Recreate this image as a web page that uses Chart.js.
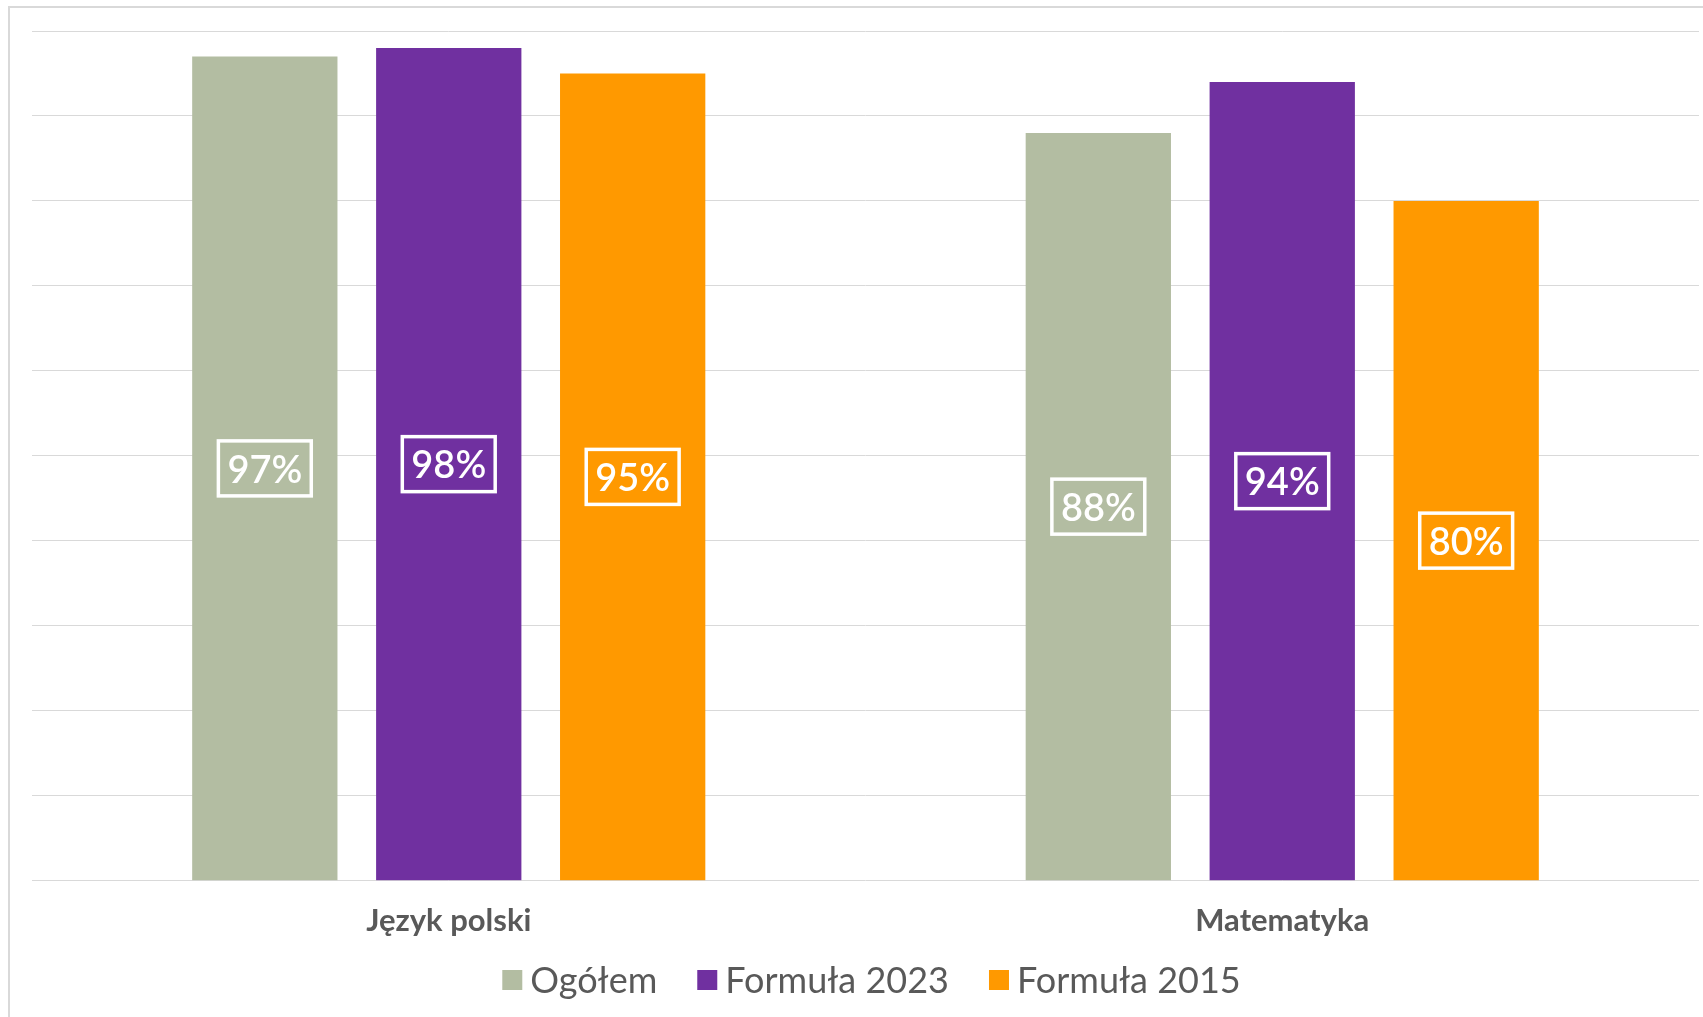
<!DOCTYPE html>
<html>
<head>
<meta charset="utf-8">
<script src="https://cdn.jsdelivr.net/npm/chart.js@4.4.0/dist/chart.umd.min.js"></script>
<style>
  body { margin: 0; background: #ffffff; }
  #frame {
    position: absolute; left: 8px; top: 6px; width: 1800px; height: 1100px;
    border-left: 2px solid #d9d9d9; border-top: 2px solid #d9d9d9;
  }
  #wrap { position: absolute; left: 0; top: 0; width: 1703px; height: 1017px; }
</style>
</head>
<body>
<div id="frame"></div>
<div id="wrap"><canvas id="chart"></canvas></div>
<script>
const categories = ['Język polski', 'Matematyka']
const seriesNames = ['Ogółem', 'Formuła 2023', 'Formuła 2015']
const ogolem = [97, 88]
const formula2023 = [98, 94]
const formula2015 = [95, 80]
const colors = ['#b3bda2', '#7030a0', '#ff9900']

const FONT = 'Lato, "Open Sans", sans-serif'

// etykiety z wartością w białej ramce
const boxLabels = {
  id: 'boxLabels',
  afterDatasetsDraw(chart) {
    const ctx = chart.ctx
    ctx.save()
    ctx.font = '600 38px ' + FONT
    ctx.textAlign = 'center'
    ctx.textBaseline = 'middle'
    chart.data.datasets.forEach((ds, i) => {
      chart.getDatasetMeta(i).data.forEach((bar, j) => {
        const text = ds.data[j] + '%'
        const cx = bar.x
        const cy = (bar.y + bar.base) / 2
        const w = ctx.measureText(text).width + 18
        const h = 55
        ctx.strokeStyle = '#ffffff'
        ctx.lineWidth = 3.5
        ctx.strokeRect(cx - w / 2, cy - h / 2, w, h)
        ctx.fillStyle = '#ffffff'
        ctx.fillText(text, cx, cy + 2)
      })
    })
    ctx.restore()
  }
}

// legenda na dole
const bottomLegend = {
  id: 'bottomLegend',
  afterDraw(chart) {
    const ctx = chart.ctx
    const area = chart.chartArea
    ctx.save()
    ctx.font = '36px ' + FONT
    ctx.textBaseline = 'middle'
    const box = 20, gap = 8, spacing = 40
    const items = chart.data.datasets.map(ds => ({
      text: ds.label, color: ds.backgroundColor, w: ctx.measureText(ds.label).width
    }))
    let total = items.reduce((s, it) => s + box + gap + it.w, 0) + spacing * (items.length - 1)
    let x = (area.left + area.right) / 2 - total / 2 + 6
    const y = 980
    items.forEach(it => {
      ctx.fillStyle = it.color
      ctx.fillRect(x, y - box / 2, box, box)
      ctx.fillStyle = '#595959'
      ctx.fillText(it.text, x + box + gap, y + 1)
      x += box + gap + it.w + spacing
    })
    ctx.restore()
  }
}

new Chart(document.getElementById('chart'), {
  type: 'bar',
  data: {
    labels: categories,
    datasets: [
      { label: seriesNames[0], data: ogolem, backgroundColor: colors[0] },
      { label: seriesNames[1], data: formula2023, backgroundColor: colors[1] },
      { label: seriesNames[2], data: formula2015, backgroundColor: colors[2] }
    ]
  },
  options: {
    responsive: true,
    maintainAspectRatio: false,
    animation: false,
    layout: { padding: { left: 32, right: 4, top: 31, bottom: 63 } },
    datasets: { bar: { categoryPercentage: 0.662, barPercentage: 0.79 } },
    scales: {
      x: {
        grid: { display: false },
        border: { display: false },
        ticks: {
          color: '#595959',
          font: { family: FONT, size: 31, weight: 'bold', lineHeight: 1.2 },
          padding: 14
        }
      },
      y: {
        min: 0,
        max: 100,
        ticks: { display: false, stepSize: 10 },
        border: { display: false },
        grid: { color: '#d9d9d9', lineWidth: 1, drawTicks: false }
      }
    },
    plugins: {
      legend: { display: false },
      tooltip: { enabled: false }
    }
  },
  plugins: [boxLabels, bottomLegend]
})
</script>
</body>
</html>
